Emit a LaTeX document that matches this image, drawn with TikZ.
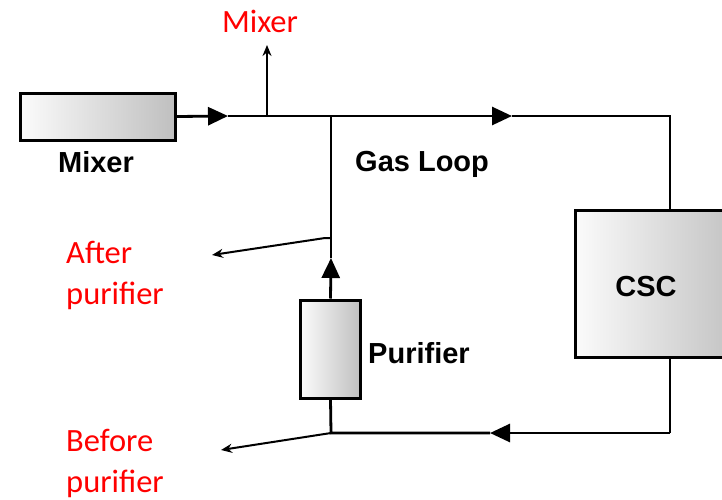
\documentclass[tikz,border=0pt]{standalone}
\usepackage{fontspec}
\setmainfont{Liberation Sans}
\newfontfamily\redfont{Carlito}
\usetikzlibrary{arrows.meta,positioning}

\tikzset{
  unitbox/.style={draw,line width=3pt,left color=gray!3,right color=gray!50,inner sep=0pt},
  flow/.style={line width=2.8pt},
  flowtip/.style={flow,-{Triangle[length=20pt,width=18pt]}},
  tap/.style={line width=2pt,-{Stealth[length=11pt,width=9pt]}},
  blk/.style={font=\fontsize{29}{33}\selectfont\bfseries,inner sep=0pt},
  redlbl/.style={text=red,font=\redfont\fontsize{32.5}{41}\selectfont,align=left,inner sep=0pt}
}

\begin{document}
\begin{tikzpicture}[x=1pt,y=-1pt]
\useasboundingbox (0,0) rectangle (722,499);
% boxes
\node[unitbox,minimum width=155pt,minimum height=47pt](mixer) at (97.5,116.5){};
\node[unitbox,minimum width=60pt,minimum height=98pt](purifier) at (330.5,349){};
\node[unitbox,minimum width=170pt,minimum height=147pt](csc) at (660,283.5){};
% loop corners
\coordinate (jn) at (331,116);
\coordinate (tr) at (670,116);
\coordinate (br) at (670,433);
\coordinate (bl) at (331,433);
\coordinate (a1) at (228,116);
\coordinate (a2) at (512,116);
\coordinate (a3) at (331,258);
\coordinate (a4) at (490,433);
% the loop
\draw[flowtip](mixer.east)--(a1);
\draw[flowtip](a1)--(a2);
\draw[flow](a2)--(tr)--(tr|-csc.north);
\draw[flow](tr|-csc.south)--(br);
\draw[flowtip](br)--(a4);
\draw[flow](a4)--(bl)--(purifier.south);
\draw[flowtip](purifier.north)--(a3);
\draw[flow](a3)--(jn);
% sample taps
\coordinate (tm) at (267,116);
\coordinate (tp) at (331,238);
\coordinate (tb) at (331,433);
\draw[tap](tm)--++(0,-71);
\draw[tap](tp)--++(-6,0)--(212,255);
\draw[tap](tb)--(221,450);
% labels
\node[blk,anchor=base](mixerlbl) at (96,172){Mixer};
\node[blk,anchor=base west](looplbl) at (355,171){Gas Loop};
\node[blk,anchor=base west](purlbl) at (368,363){Purifier};
\node[blk,anchor=base](csclbl) at (646,296){CSC};
\node[redlbl,anchor=base](tapmixer) at (260,32){Mixer};
\node[redlbl,anchor=base west](tapafter) at (66,304){After\\purifier};
\node[redlbl,anchor=base west](tapbefore) at (66,492){Before\\purifier};
\end{tikzpicture}
\end{document}
